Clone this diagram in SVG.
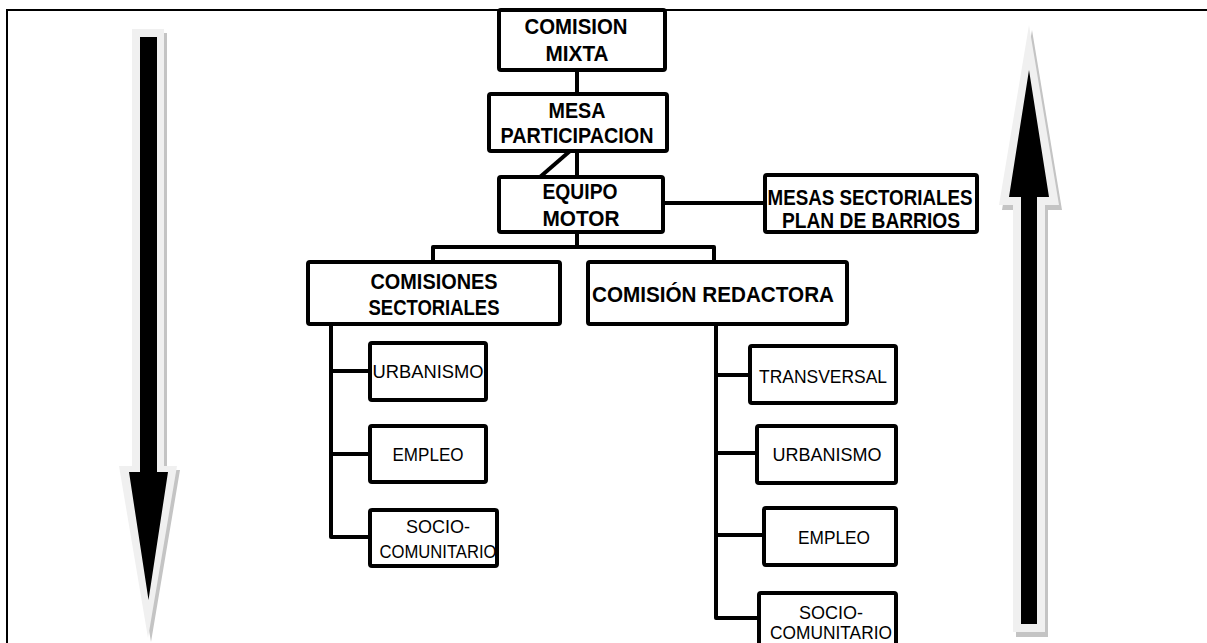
<svg xmlns="http://www.w3.org/2000/svg" width="1207" height="643" viewBox="0 0 1207 643">
  <style>
    .box { fill: #ffffff; stroke: #000000; stroke-width: 4; }
    .wire { fill: none; stroke: #000000; stroke-width: 4; stroke-linejoin: round; }
    .frame { fill: none; stroke: #000000; stroke-width: 2; }
    .b { font-family: "Liberation Sans", Arial, sans-serif; font-weight: bold; font-size: 22px; fill: #000000; text-anchor: middle; }
    .r { font-family: "Liberation Sans", Arial, sans-serif; font-size: 18px; fill: #000000; text-anchor: middle; }
    .shadow { fill: #c4c4c4; }
    .rim { fill: #f0f0f0; }
    .core { fill: #000000; }
  </style>

  <!-- page frame -->
  <path class="frame" d="M7,643 V10 H1207"/>

  <!-- downward arrow on the left -->
  <g id="arrow-down">
    <polygon class="shadow" transform="translate(3,4)" points="132,29 164,29 164,466 177,466 148,638 119,466 132,466"/>
    <polygon class="rim" points="132,29 164,29 164,466 177,466 148,638 119,466 132,466"/>
    <polygon class="core" points="140,37 157,37 157,472 168,472 148.5,600 129,472 140,472"/>
  </g>

  <!-- upward arrow on the right -->
  <g id="arrow-up">
    <polygon class="shadow" transform="translate(3,5)" points="1029,25 1059,205 1045,205 1045,632 1013,632 1013,205 999,205"/>
    <polygon class="rim" points="1029,25 1059,205 1045,205 1045,632 1013,632 1013,205 999,205"/>
    <polygon class="core" points="1029,70 1049,197 1037,197 1037,624 1021,624 1021,197 1009,197"/>
  </g>

  <!-- connectors -->
  <g id="connectors">
    <path class="wire" d="M577,70 V94"/>
    <path class="wire" d="M577,151 V177"/>
    <path class="wire" d="M570,151 L540,177"/>
    <path class="wire" d="M663,203 H765"/>
    <path class="wire" d="M577,232 V247"/>
    <path class="wire" d="M433,262 V247 H714 V262"/>
    <path class="wire" d="M331,324 V537 H370"/>
    <path class="wire" d="M331,371 H370"/>
    <path class="wire" d="M331,454 H370"/>
    <path class="wire" d="M716,324 V618 H759"/>
    <path class="wire" d="M716,375 H750"/>
    <path class="wire" d="M716,453 H757"/>
    <path class="wire" d="M716,535 H764"/>
  </g>

  <g id="comision-mixta">
    <rect class="box" x="499" y="10" width="166" height="60" rx="2"/>
    <text class="b" x="576" y="34" textLength="103" lengthAdjust="spacingAndGlyphs">COMISION</text>
    <text class="b" x="577" y="61" textLength="63" lengthAdjust="spacingAndGlyphs">MIXTA</text>
  </g>

  <g id="mesa-participacion">
    <rect class="box" x="489" y="94" width="178" height="57" rx="2"/>
    <text class="b" x="577" y="118" textLength="57" lengthAdjust="spacingAndGlyphs">MESA</text>
    <text class="b" x="577" y="143" textLength="153" lengthAdjust="spacingAndGlyphs">PARTICIPACION</text>
  </g>

  <g id="equipo-motor">
    <rect class="box" x="499" y="177" width="164" height="55" rx="2"/>
    <text class="b" x="580" y="199" textLength="75" lengthAdjust="spacingAndGlyphs">EQUIPO</text>
    <text class="b" x="581" y="226" textLength="77" lengthAdjust="spacingAndGlyphs">MOTOR</text>
  </g>

  <g id="mesas-sectoriales">
    <rect class="box" x="765" y="175" width="212" height="57" rx="2"/>
    <text class="b" x="870" y="205" textLength="205" lengthAdjust="spacingAndGlyphs">MESAS SECTORIALES</text>
    <text class="b" x="871" y="228" textLength="178" lengthAdjust="spacingAndGlyphs">PLAN DE BARRIOS</text>
  </g>

  <g id="comisiones-sectoriales">
    <rect class="box" x="308" y="262" width="252" height="62" rx="2"/>
    <text class="b" x="434" y="289" textLength="127" lengthAdjust="spacingAndGlyphs">COMISIONES</text>
    <text class="b" x="434" y="315" textLength="131" lengthAdjust="spacingAndGlyphs">SECTORIALES</text>
  </g>

  <g id="comision-redactora">
    <rect class="box" x="588" y="262" width="259" height="62" rx="2"/>
    <text class="b" x="713" y="302" textLength="242" lengthAdjust="spacingAndGlyphs">COMISIÓN REDACTORA</text>
  </g>

  <g id="sect-urbanismo">
    <rect class="box" x="370" y="343" width="116" height="57" rx="2"/>
    <text class="r" x="428" y="378" textLength="111" lengthAdjust="spacingAndGlyphs">URBANISMO</text>
  </g>

  <g id="sect-empleo">
    <rect class="box" x="370" y="426" width="116" height="56" rx="2"/>
    <text class="r" x="428" y="461" textLength="71" lengthAdjust="spacingAndGlyphs">EMPLEO</text>
  </g>

  <g id="sect-sociocomunitario">
    <rect class="box" x="370" y="510" width="127" height="56" rx="2"/>
    <text class="r" x="438" y="533">SOCIO-</text>
    <text class="r" x="438" y="558" textLength="117" lengthAdjust="spacingAndGlyphs">COMUNITARIO</text>
  </g>

  <g id="red-transversal">
    <rect class="box" x="750" y="346" width="146" height="57" rx="2"/>
    <text class="r" x="823" y="383" textLength="128" lengthAdjust="spacingAndGlyphs">TRANSVERSAL</text>
  </g>

  <g id="red-urbanismo">
    <rect class="box" x="757" y="426" width="139" height="57" rx="2"/>
    <text class="r" x="827" y="461" textLength="109" lengthAdjust="spacingAndGlyphs">URBANISMO</text>
  </g>

  <g id="red-empleo">
    <rect class="box" x="764" y="508" width="132" height="57" rx="2"/>
    <text class="r" x="834" y="544" textLength="72" lengthAdjust="spacingAndGlyphs">EMPLEO</text>
  </g>

  <g id="red-sociocomunitario">
    <rect class="box" x="759" y="593" width="137" height="60" rx="2"/>
    <text class="r" x="831" y="619">SOCIO-</text>
    <text class="r" x="831" y="639" textLength="122" lengthAdjust="spacingAndGlyphs">COMUNITARIO</text>
  </g>
</svg>
